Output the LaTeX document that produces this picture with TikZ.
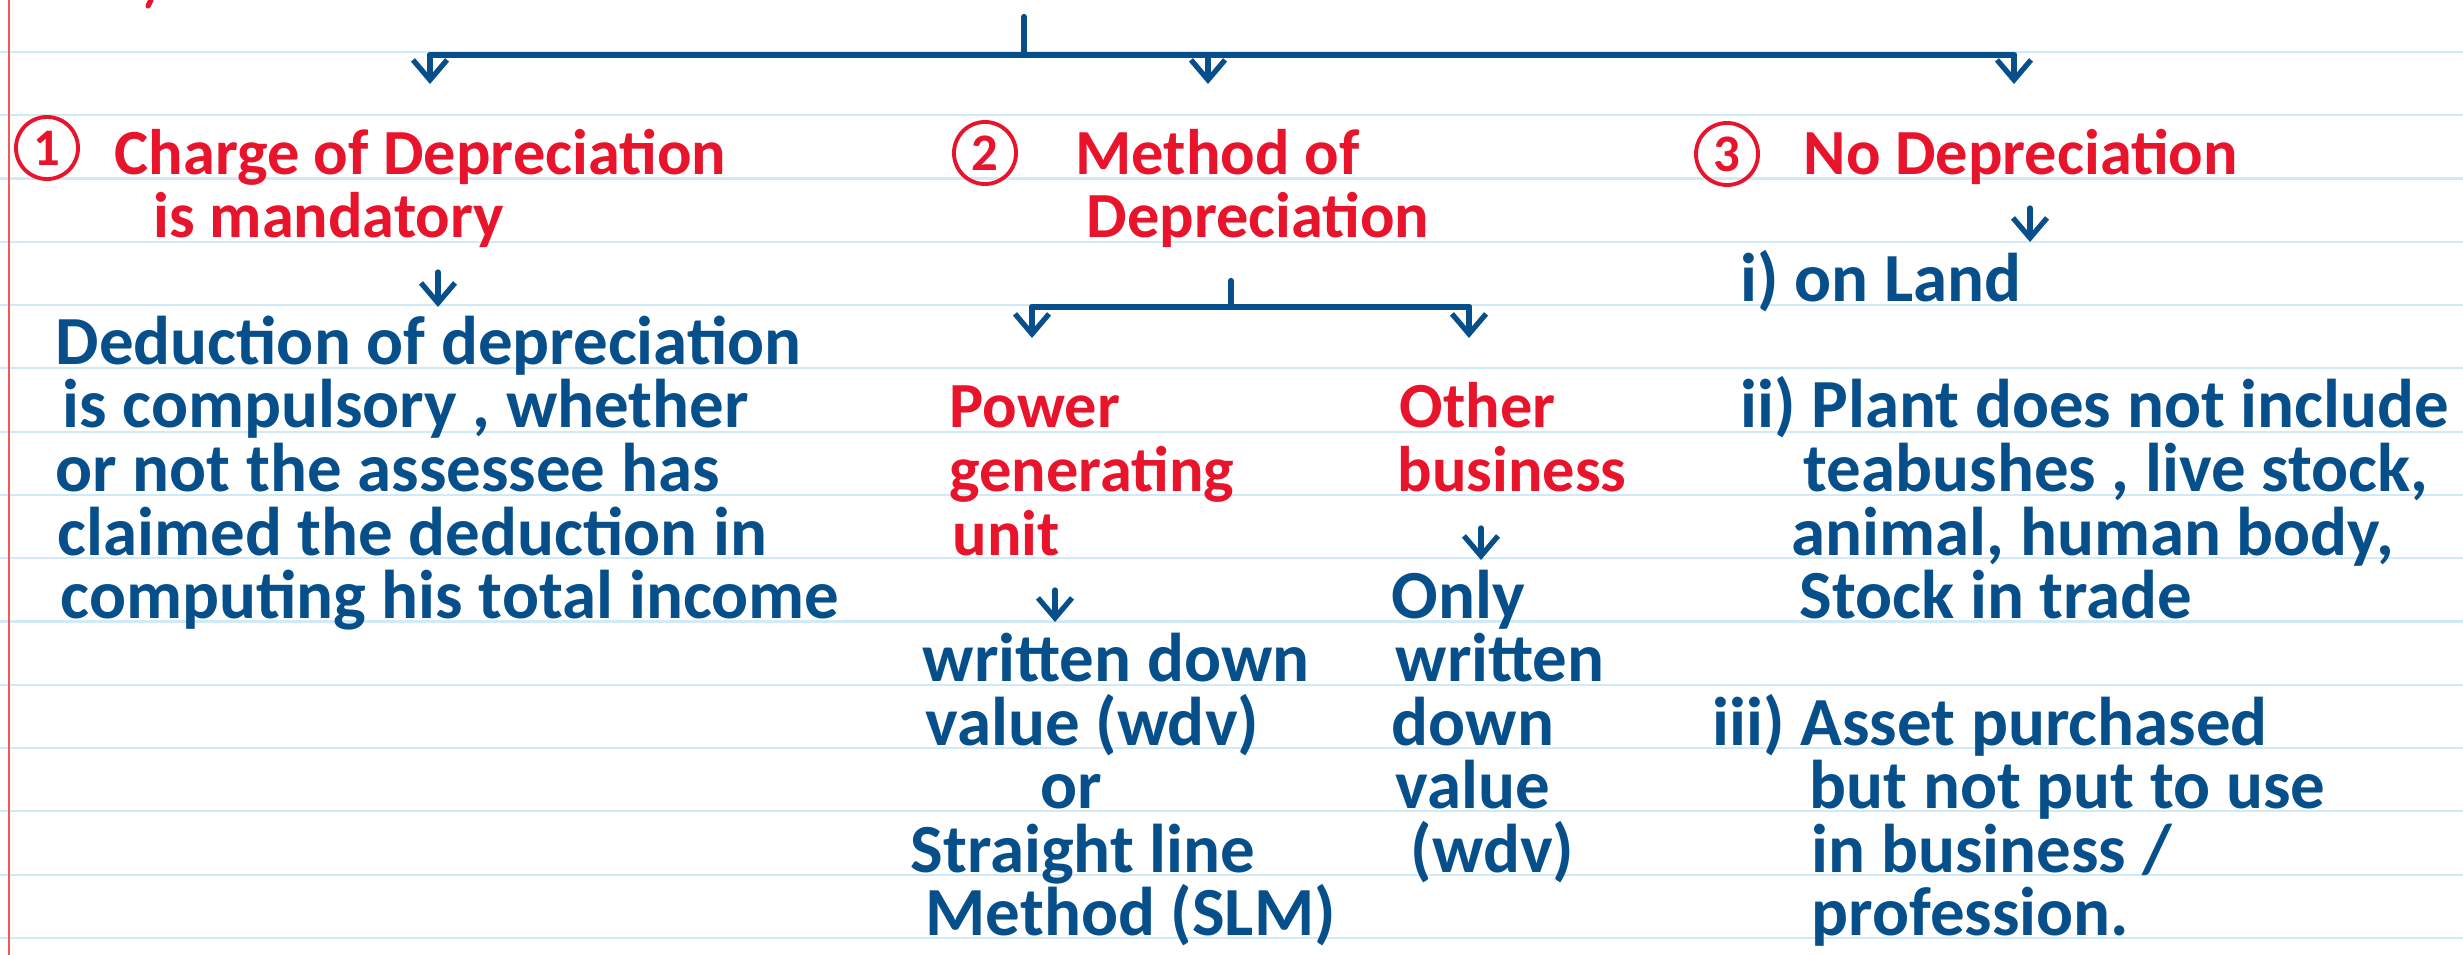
\documentclass[tikz,border=0pt]{standalone}
\usepackage{fontspec}
\setmainfont{Carlito}
\usetikzlibrary{arrows.meta}
\definecolor{hred}{HTML}{E8142B}
\definecolor{hblue}{HTML}{064F8A}
\definecolor{rule}{HTML}{D0EAF8}
\definecolor{margin}{HTML}{F25656}
\tikzset{
  redtxt/.style={text=hred, font=\bfseries\fontsize{18.3}{18.3}\selectfont, anchor=base west, inner sep=0pt},
  bluetxt/.style={text=hblue, font=\bfseries\fontsize{19.6}{19.6}\selectfont, anchor=base west, inner sep=0pt},
  numcirc/.style={circle, draw=hred, line width=1.1pt, text=hred, minimum size=0.62cm, inner sep=0pt, font=\bfseries\fontsize{15}{15}\selectfont},
  bar/.style={draw=hblue, line width=1.8pt, line cap=round, line join=round},
  conn/.style={draw=hblue, line width=1.5pt, line cap=round, line join=round,
    -{Straight Barb[length=0.2cm, width=0.34cm, line width=1.5pt]}},
}
\begin{document}
\begin{tikzpicture}[x=0.01cm, y=-0.01cm]
\useasboundingbox (0,0) rectangle (2463,955);
\fill[white] (0,0) rectangle (2463,955);
% ruled lines
\foreach \k in {0,...,14}
  \draw[rule, line width=0.6pt] (0,{52+63.28*\k}) -- (2463,{52+63.28*\k});
% margin line
\draw[margin, line width=0.6pt] (9,0) -- (9,955);
% stray red stroke at top
\draw[hred, line width=1.5pt, line cap=round] (151,0) -- (148,6);

% ---------- top tree ----------
\coordinate (top) at (1024,17);
\coordinate (topj) at (1024,55);
\coordinate (bl) at (430,55);
\coordinate (bm) at (1208,55);
\coordinate (br) at (2014,55);
\coordinate (tl) at (430,84);
\coordinate (tm) at (1208,84);
\coordinate (tr) at (2014,84);
\draw[bar] (top) -- (topj);
\draw[bar] (bl) -- (br);
\draw[conn] (bl) -- (tl);
\draw[conn] (bm) -- (tm);
\draw[conn] (br) -- (tr);

% ---------- column 1 ----------
\node[numcirc] (n1) at (47,148) {1};
\node[redtxt] (h1a) at (114,175) {Charge of Depreciation};
\node[redtxt] (h1b) at (153,238) {is mandatory};
\coordinate (a1s) at (438,272);
\coordinate (a1e) at (438,307);
\draw[conn] (a1s) -- (a1e);
\node[bluetxt] (d1) at (55,365) {Deduction of depreciation};
\node[bluetxt] (d2) at (62,428) {is compulsory , whether};
\node[bluetxt] (d3) at (55,492) {or not the assessee has};
\node[bluetxt] (d4) at (57,555) {claimed the deduction in};
\node[bluetxt] (d5) at (60,618) {computing his total income};

% ---------- column 2 ----------
\node[numcirc] (n2) at (985,153) {2};
\node[redtxt] (h2a) at (1075,175) {Method of};
\node[redtxt] (h2b) at (1086,238) {Depreciation};
\coordinate (s2) at (1231,281);
\coordinate (s2j) at (1231,307);
\coordinate (b2l) at (1032,307);
\coordinate (b2r) at (1469,307);
\coordinate (t2l) at (1032,338);
\coordinate (t2r) at (1469,338);
\draw[bar] (s2) -- (s2j);
\draw[bar] (b2l) -- (b2r);
\draw[conn] (b2l) -- (t2l);
\draw[conn] (b2r) -- (t2r);

\node[redtxt] (p1) at (949,428) {Power};
\node[redtxt] (p2) at (949,492) {generating};
\node[redtxt] (p3) at (952,555) {unit};
\coordinate (a2s) at (1055,590);
\coordinate (a2e) at (1055,622);
\draw[conn] (a2s) -- (a2e);
\node[bluetxt] (w1) at (922,682) {written down};
\node[bluetxt] (w2) at (925,745) {value (wdv)};
\node[bluetxt] (w3) at (1040,808) {or};
\node[bluetxt] (w4) at (910,872) {Straight line};
\node[bluetxt] (w5) at (925,935) {Method (SLM)};

\node[redtxt] (o1) at (1399,428) {Other};
\node[redtxt] (o2) at (1397,492) {business};
\coordinate (a3s) at (1481,528);
\coordinate (a3e) at (1481,560);
\draw[conn] (a3s) -- (a3e);
\node[bluetxt] (v1) at (1391,618) {Only};
\node[bluetxt] (v2) at (1395,682) {written};
\node[bluetxt] (v3) at (1391,745) {down};
\node[bluetxt] (v4) at (1395,808) {value};
\node[bluetxt] (v5) at (1410,872) {(wdv)};

% ---------- column 3 ----------
\node[numcirc] (n3) at (1727,154) {3};
\node[redtxt] (h3) at (1803,175) {No Depreciation};
\coordinate (a4s) at (2030,208);
\coordinate (a4e) at (2030,242);
\draw[conn] (a4s) -- (a4e);
\node[bluetxt] (r1) at (1740,302) {i) on Land};
\node[bluetxt] (r2) at (1740,428) {ii) Plant does not include};
\node[bluetxt] (r3) at (1803,492) {teabushes , live stock,};
\node[bluetxt] (r4) at (1791,555) {animal, human body,};
\node[bluetxt] (r5) at (1799,618) {Stock in trade};
\node[bluetxt] (r6) at (1712,745) {iii) Asset purchased};
\node[bluetxt] (r7) at (1809,808) {but not put to use};
\node[bluetxt] (r8) at (1811,872) {in business /};
\node[bluetxt] (r9) at (1811,935) {profession.};
\end{tikzpicture}
\end{document}
